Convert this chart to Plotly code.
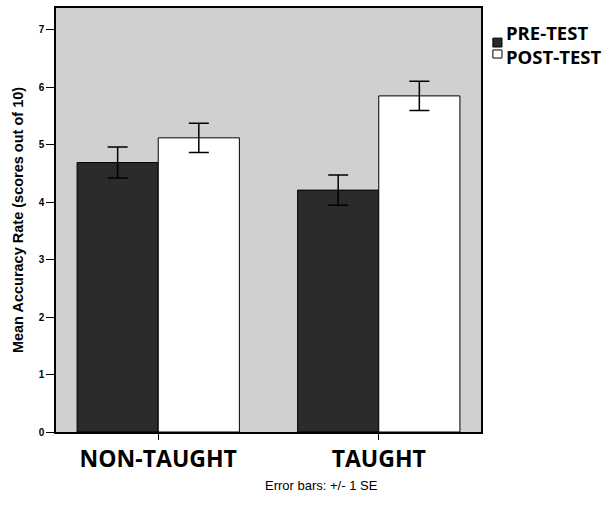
import plotly.graph_objects as go

categories = ["NON-TAUGHT", "TAUGHT"]
pre_test = [4.69, 4.21]
pre_se = [0.27, 0.265]
post_test = [5.12, 5.85]
post_se = [0.255, 0.255]
series_names = ["PRE-TEST", "POST-TEST"]
y_ticks = [0, 1, 2, 3, 4, 5, 6, 7]

fig = go.Figure()
fig.add_trace(go.Bar(
    x=categories, y=pre_test, name=series_names[0],
    marker=dict(color="#2b2b2b", line=dict(color="#000000", width=1)),
    error_y=dict(type="data", array=pre_se, color="#000000", thickness=1.5, width=10),
    showlegend=False,
))
fig.add_trace(go.Bar(
    x=categories, y=post_test, name=series_names[1],
    marker=dict(color="#ffffff", line=dict(color="#000000", width=1)),
    error_y=dict(type="data", array=post_se, color="#000000", thickness=1.5, width=10),
    showlegend=False,
))

fig.update_layout(
    width=612, height=507,
    margin=dict(l=56, r=131, t=8, b=75, autoexpand=False),
    paper_bgcolor="#ffffff",
    plot_bgcolor="#d0d0d0",
    barmode="group",
    bargap=0.264,
    bargroupgap=0,
    font=dict(family="Liberation Sans, Arial", color="#000000"),
)
fig.update_xaxes(
    range=[-0.4636, 1.4636],
    showline=True, linecolor="#000000", linewidth=1.5, mirror=True,
    ticks="outside", ticklen=6, tickcolor="#000000",
    tickfont=dict(family="Open Sans", size=23, color="#000000", weight="bold"),
    showgrid=False,
)
fig.update_yaxes(
    range=[0, 7.38],
    tickvals=y_ticks,
    showline=True, linecolor="#000000", linewidth=1.5, mirror=True,
    ticks="outside", ticklen=8, tickcolor="#000000",
    tickfont=dict(family="Liberation Sans", size=10, color="#000000", weight="bold"),
    showgrid=False, zeroline=False,
    title=dict(text="Mean Accuracy Rate (scores out of 10)",
               font=dict(family="Liberation Sans", size=14.5, weight="bold"), standoff=12),
)

# legend drawn manually
fig.add_shape(type="rect", xref="paper", yref="paper", x0=1.028, x1=1.0494, y0=0.908, y1=0.929,
              fillcolor="#2b2b2b", line=dict(color="#000000", width=1))
fig.add_shape(type="rect", xref="paper", yref="paper", x0=1.028, x1=1.0494, y0=0.882, y1=0.901,
              fillcolor="#ffffff", line=dict(color="#000000", width=1))
fig.add_annotation(xref="paper", yref="paper", x=1.057, y=0.913, xanchor="left", yanchor="middle",
                   text="<br>".join(series_names), showarrow=False, align="left", borderpad=0,
                   font=dict(family="Open Sans", size=18.5, weight="bold", color="#000000"))

fig.add_annotation(xref="paper", yref="paper", x=0.624, y=-0.125, xanchor="center", yanchor="middle",
                   text="Error bars: +/- 1 SE", showarrow=False,
                   font=dict(family="Liberation Sans", size=13, color="#000000"))

fig.write_html("out.html", config={"displayModeBar": False},
               post_script="document.body.style.margin='0px';")
